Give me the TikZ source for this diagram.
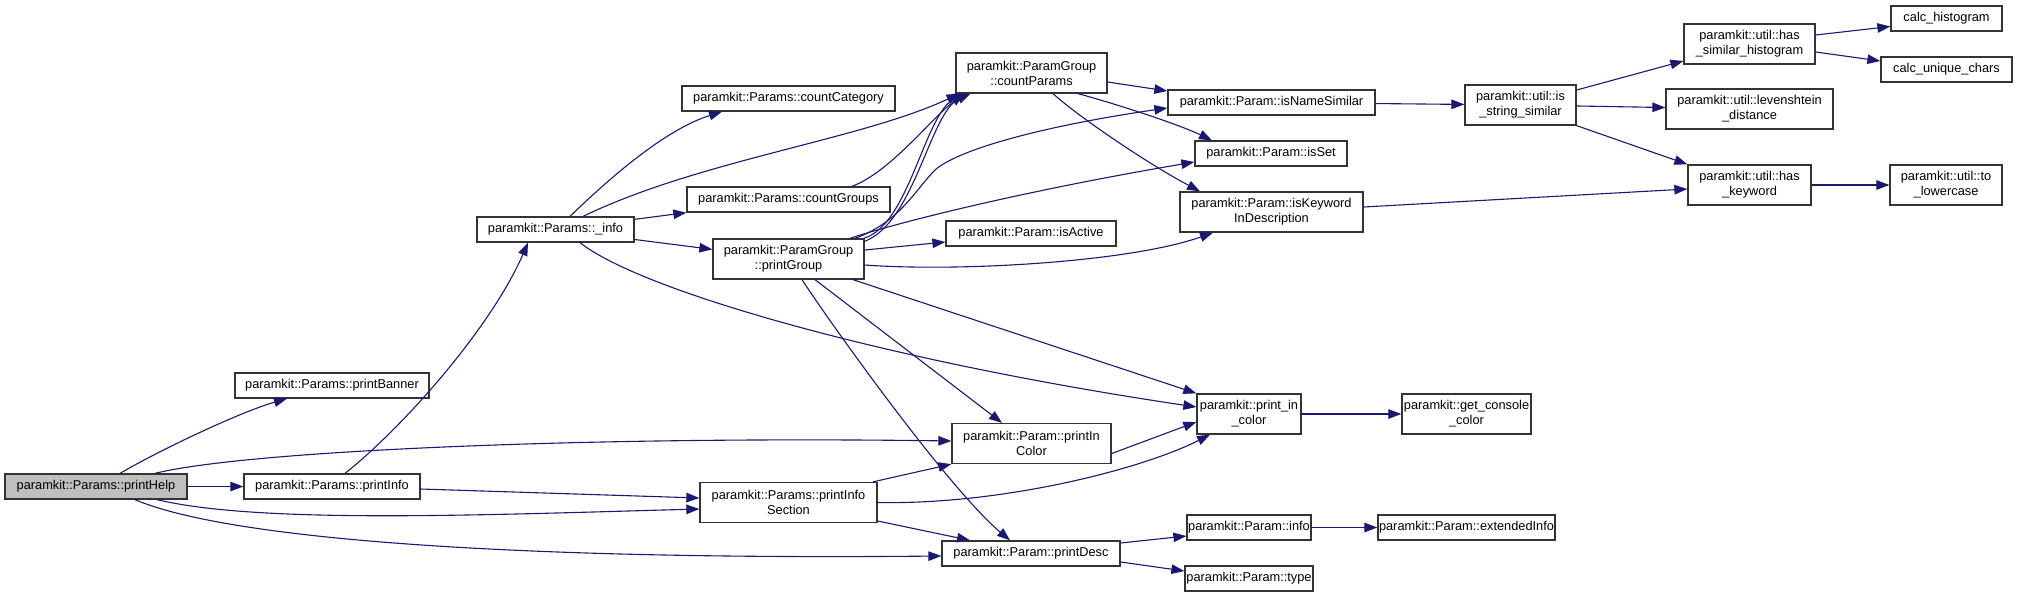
\documentclass[tikz,border=0pt]{standalone}
\usepackage{fontspec}
\setmainfont{Liberation Sans}
\usetikzlibrary{arrows.meta}
\definecolor{edgeblue}{HTML}{191970}
\tikzset{
  fn/.style={draw=black!80, line width=1.3pt, fill=white, align=center, inner sep=1pt,
    minimum height=25pt, font=\fontsize{12.8}{15}\selectfont},
  fntwo/.style={fn, minimum height=40pt},
  fnsel/.style={fn, fill=black!25},
  call/.style={draw=edgeblue, line width=1.1pt, -{Triangle[length=13pt,width=9.5pt]}}
}
\begin{document}
\begin{tikzpicture}[x=1pt, y=-1pt]
  \path[use as bounding box, fill=white] (0,0) rectangle (2017,597);
  % Caller
  \node[fnsel, minimum width=182pt] (printHelp) at (96,486.5) {paramkit::Params::printHelp};
  % First level
  \node[fn, minimum width=194pt] (printBanner) at (332,385.5) {paramkit::Params::printBanner};
  \node[fn, minimum width=176pt] (printInfo) at (332,486.5) {paramkit::Params::printInfo};
  \node[fn, minimum width=157pt] (infoP) at (555.5,229.5) {paramkit::Params::\_info};
  % Params / ParamGroup column
  \node[fn, minimum width=213pt] (countCategory) at (788.5,98.5) {paramkit::Params::countCategory};
  \node[fn, minimum width=203pt] (countGroups) at (788.5,199.5) {paramkit::Params::countGroups};
  \node[fntwo, minimum width=151pt] (printGroup) at (788.5,259) {paramkit::ParamGroup\\::printGroup};
  \node[fntwo, minimum width=177pt] (printInfoSection) at (788.5,502.5) {paramkit::Params::printInfo\\Section};
  % Param column
  \node[fntwo, minimum width=151pt] (countParams) at (1031.5,73) {paramkit::ParamGroup\\::countParams};
  \node[fn, minimum width=170pt] (isActive) at (1031,233.5) {paramkit::Param::isActive};
  \node[fntwo, minimum width=159pt] (printInColor) at (1031.5,443.5) {paramkit::Param::printIn\\Color};
  \node[fn, minimum width=178pt] (printDesc) at (1031,553.5) {paramkit::Param::printDesc};
  \node[fn, minimum width=207pt] (isNameSimilar) at (1271.5,102.5) {paramkit::Param::isNameSimilar};
  \node[fn, minimum width=152pt] (isSet) at (1271,153.5) {paramkit::Param::isSet};
  \node[fntwo, minimum width=183pt] (isKeyword) at (1271.5,212) {paramkit::Param::isKeyword\\InDescription};
  \node[fntwo, minimum width=104pt] (printColor) at (1249,414) {paramkit::print\_in\\\_color};
  \node[fn, minimum width=124pt] (paramInfo) at (1249,527.5) {paramkit::Param::info};
  \node[fn, minimum width=128pt] (paramType) at (1249,578.5) {paramkit::Param::type};
  % util column
  \node[fntwo, minimum width=111pt] (isStrSimilar) at (1520.5,105) {paramkit::util::is\\\_string\_similar};
  \node[fntwo, minimum width=129pt] (getConsole) at (1466.5,414) {paramkit::get\_console\\\_color};
  \node[fn, minimum width=171pt] (extendedInfo) at (1466.5,527.5) {paramkit::Param::extendedInfo};
  \node[fntwo, minimum width=131pt] (hasSimHist) at (1749.5,44) {paramkit::util::has\\\_similar\_histogram};
  \node[fntwo, minimum width=167pt] (levenshtein) at (1749.5,109) {paramkit::util::levenshtein\\\_distance};
  \node[fntwo, minimum width=123pt] (hasKeyword) at (1749.5,185) {paramkit::util::has\\\_keyword};
  \node[fn, minimum width=111pt] (calcHist) at (1946.5,18.5) {calc\_histogram};
  \node[fn, minimum width=131pt] (calcUnique) at (1946.5,69.5) {calc\_unique\_chars};
  \node[fntwo, minimum width=112pt] (toLower) at (1946,185) {paramkit::util::to\\\_lowercase};
  % Straight calls
  \foreach \a/\b in {printHelp/printInfo, infoP/countGroups, infoP/printGroup,
      isNameSimilar/isStrSimilar, isStrSimilar/levenshtein, hasKeyword/toLower,
      paramInfo/extendedInfo, printColor/getConsole} {
    \draw[call] (\a) -- (\b);
  }
  % printHelp
  \draw[call] ([xshift=24pt]printHelp.north) .. controls (160,450) and (240,412) .. ([xshift=-45pt]printBanner.south);
  \draw[call] ([xshift=59pt]printHelp.north) .. controls (250,450) and (600,436) .. ([yshift=2.5pt]printInColor.west);
  \draw[call] ([xshift=61pt]printHelp.south) .. controls (260,524) and (480,515) .. ([yshift=-6.5pt]printInfoSection.west);
  \draw[call] ([xshift=39pt]printHelp.south) .. controls (230,540) and (520,560) .. ([yshift=-2.5pt]printDesc.west);
  % printInfo
  \draw[call] ([xshift=13pt]printInfo.north) .. controls (400,430) and (490,330) .. ([xshift=-27.5pt]infoP.south);
  \draw[call] ([yshift=-2.5pt]printInfo.east) -- ([yshift=4.5pt]printInfoSection.west);
  % _info
  \draw[call] ([xshift=14.5pt]infoP.north) .. controls (620,168) and (670,128) .. ([xshift=-66.5pt]countCategory.south);
  \draw[call] ([xshift=27.5pt]infoP.north) .. controls (700,160) and (860,140) .. ([xshift=-72pt]countParams.south);
  \draw[call] ([xshift=24.5pt]infoP.south) .. controls (640,290) and (880,360) .. ([yshift=7pt]printColor.west);
  \draw[call] ([xshift=63.5pt]countGroups.north) .. controls (890,172) and (930,120) .. ([xshift=-68pt]countParams.south);
  % printGroup
  \draw[call] ([xshift=-1pt]printGroup.north east) .. controls (910,225) and (925,110) .. ([xshift=-64pt]countParams.south);
  \draw[call] ([yshift=-3pt]printGroup.north east) .. controls (915,222) and (930,112) .. ([xshift=-61pt]countParams.south);
  \draw[call] ([xshift=66.5pt]printGroup.north) .. controls (900,222) and (915,190) .. (935,170)
    .. controls (960,148) and (1050,125) .. ([yshift=-5.5pt]isNameSimilar.west);
  \draw[call] ([xshift=61.5pt]printGroup.north) .. controls (880,228) and (1000,195) .. ([yshift=-8.5pt]isSet.west);
  \draw[call] ([yshift=9pt]printGroup.east) -- ([yshift=-8.5pt]isActive.west);
  \draw[call] ([yshift=-6pt]printGroup.east) .. controls (960,272) and (1130,262) .. ([xshift=-58.5pt]isKeyword.south);
  \draw[call] ([xshift=64.5pt]printGroup.south) -- (printColor.north west);
  \draw[call] ([xshift=26.5pt]printGroup.south) -- ([xshift=-29.5pt]printInColor.north);
  \draw[call] ([xshift=13.5pt]printGroup.south) .. controls (835,330) and (950,490) .. ([xshift=-21pt]printDesc.north);
  % countParams
  \draw[call] ([yshift=-9pt]countParams.east) -- ([yshift=11.5pt]isNameSimilar.west);
  \draw[call] ([xshift=46.5pt]countParams.south) .. controls (1120,105) and (1180,125) .. ([xshift=-59pt]isSet.north);
  \draw[call] ([xshift=21.5pt]countParams.south) .. controls (1080,118) and (1150,165) .. ([xshift=-71.5pt]isKeyword.north);
  % string helpers
  \draw[call] ([yshift=5pt]isKeyword.east) -- ([yshift=-4pt]hasKeyword.west);
  \draw[call] ([yshift=15pt]isStrSimilar.east) -- ([yshift=-17pt]hasSimHist.west);
  \draw[call] (isStrSimilar.south east) -- (hasKeyword.north west);
  \draw[call] ([yshift=9pt]hasSimHist.east) -- ([yshift=-8pt]calcHist.west);
  \draw[call] ([yshift=-8pt]hasSimHist.east) -- ([yshift=8.5pt]calcUnique.west);
  % printing
  \draw[call] ([yshift=-10pt]printInColor.east) -- ([yshift=-8pt]printColor.west);
  \draw[call] ([xshift=84.5pt]printInfoSection.north) -- (printInColor.south west);
  \draw[call] (printInfoSection.east) .. controls (1000,505) and (1140,470) .. ([xshift=-39pt]printColor.south);
  \draw[call] ([yshift=-18.5pt]printInfoSection.east) -- ([xshift=-61pt]printDesc.north);
  \draw[call] ([yshift=10.5pt]printDesc.east) -- ([yshift=-8.5pt]paramInfo.west);
  \draw[call] ([yshift=-8.5pt]printDesc.east) -- ([yshift=7.5pt]paramType.west);
\end{tikzpicture}
\end{document}
